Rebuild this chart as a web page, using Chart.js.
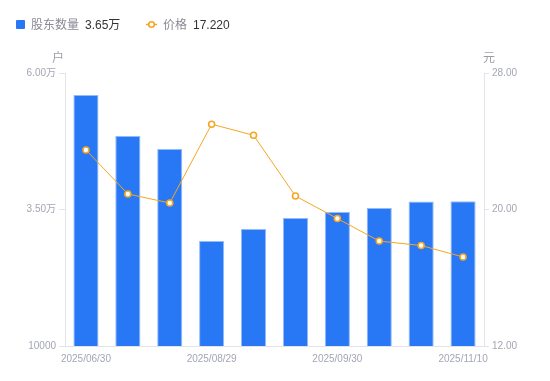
<!DOCTYPE html>
<html>
<head>
<meta charset="utf-8">
<script src="https://cdn.jsdelivr.net/npm/chart.js@4"></script>
<style>
  html, body { margin: 0; padding: 0; background: #fff; }
  #wrap { position: relative; width: 550px; height: 381px; font-family: "Liberation Sans", Arial, "Noto Sans CJK SC", sans-serif; }
  #c { position: absolute; left: 0; top: 0; }
  .lg { position: absolute; top: 17px; font-size: 12px; line-height: 16px; white-space: nowrap; }
  .lg .name { color: #8a8a94; }
  .lg .val { color: #333; margin-left: 6px; }
  .sq { display: inline-block; width: 9px; height: 9px; background: #2878f5; border-radius: 1px; vertical-align: -0px; margin-right: 6px; }
</style>
</head>
<body>
<div id="wrap">
  <canvas id="c" width="550" height="381"></canvas>
  <div class="lg" style="left:16px;"><span class="sq"></span><span class="name">股东数量</span><span class="val">3.65万</span></div>
  <div class="lg" style="left:146px;"><svg width="11" height="9" style="vertical-align:0px;margin-right:6px"><line x1="0" y1="4.5" x2="11" y2="4.5" stroke="#f5a623" stroke-width="1.5"/><circle cx="5.5" cy="4.5" r="2.8" fill="#fff" stroke="#f5a623" stroke-width="1.6"/></svg><span class="name">价格</span><span class="val">17.220</span></div>
</div>
<script>
const categories = ['2025/06/30','2025/07/10','2025/07/31','2025/08/29','2025/09/10','2025/09/19','2025/09/30','2025/10/20','2025/10/31','2025/11/10'];
const holders = [55970, 48460, 46080, 29230, 31430, 33440, 34540, 35270, 36450, 36500];
const prices = [23.49, 20.91, 20.38, 25.00, 24.35, 20.79, 19.47, 18.15, 17.89, 17.22];
const leftTicks = [10000, 35000, 60000];
const rightTicks = [12, 20, 28];
const xLabelEvery = 3;

const FONT = '"Liberation Sans", Arial, "Noto Sans CJK SC", sans-serif';
const axisColor = '#e3e4ea';
const tickColor = '#a3a6b4';

const titlePlugin = {
  id: 'axisTitles',
  afterDraw(chart) {
    const ctx = chart.ctx;
    const yl = chart.scales.y, yr = chart.scales.y2;
    ctx.save();
    ctx.font = '12px ' + FONT;
    ctx.fillStyle = '#9a9ca8';
    ctx.textAlign = 'center';
    ctx.textBaseline = 'middle';
    ctx.fillText('户', yl.right - 7, chart.chartArea.top - 14);
    ctx.fillText('元', yr.left + 5, chart.chartArea.top - 14);
    ctx.restore();
  }
};

new Chart(document.getElementById('c'), {
  data: {
    labels: categories,
    datasets: [
      {
        type: 'line',
        label: '价格',
        data: prices,
        yAxisID: 'y2',
        borderColor: '#f5a623',
        borderWidth: 1,
        pointRadius: 3,
        pointBorderWidth: 1.6,
        pointBackgroundColor: '#fff',
        pointBorderColor: '#f5a623',
        tension: 0,
        order: 0
      },
      {
        type: 'bar',
        label: '股东数量',
        data: holders,
        yAxisID: 'y',
        backgroundColor: '#2878f5',
        borderColor: '#93bbf9',
        borderWidth: {top: 1, left: 1, right: 1, bottom: 0},
        borderSkipped: false,
        categoryPercentage: 1,
        barPercentage: 0.6,
        order: 1
      }
    ]
  },
  options: {
    responsive: false,
    animation: false,
    layout: { padding: { top: 73, left: 0, right: 0, bottom: 0 } },
    plugins: { legend: { display: false }, tooltip: { enabled: false } },
    scales: {
      x: {
        type: 'category',
        offset: true,
        grid: { display: false, drawTicks: false },
        border: { display: true, color: axisColor, width: 1 },
        ticks: {
          autoSkip: false,
          maxRotation: 0,
          padding: 7,
          color: tickColor,
          font: { size: 10, family: FONT },
          callback(v, i) { return i % xLabelEvery === 0 ? categories[i] : ''; }
        },
        afterFit(s) { s.height = 35; }
      },
      y: {
        position: 'left',
        min: 10000, max: 60000,
        afterBuildTicks(s) { s.ticks = leftTicks.map(v => ({ value: v })); },
        grid: { drawOnChartArea: false, drawTicks: true, tickLength: 6, color: axisColor },
        border: { display: true, color: axisColor, width: 1 },
        ticks: {
          padding: 3,
          color: tickColor,
          font: { size: 10, family: FONT },
          callback(v) { return v === 10000 ? '10000' : (v / 10000).toFixed(2) + '万'; }
        },
        afterFit(s) { s.width = 65; }
      },
      y2: {
        position: 'right',
        min: 12, max: 28,
        afterBuildTicks(s) { s.ticks = rightTicks.map(v => ({ value: v })); },
        grid: { drawOnChartArea: false, drawTicks: true, tickLength: 5, color: axisColor },
        border: { display: true, color: axisColor, width: 1 },
        ticks: {
          padding: 3,
          color: tickColor,
          font: { size: 10, family: FONT },
          callback(v) { return Number(v).toFixed(2); }
        },
        afterFit(s) { s.width = 66; }
      }
    }
  },
  plugins: [titlePlugin]
});
</script>
</body>
</html>
